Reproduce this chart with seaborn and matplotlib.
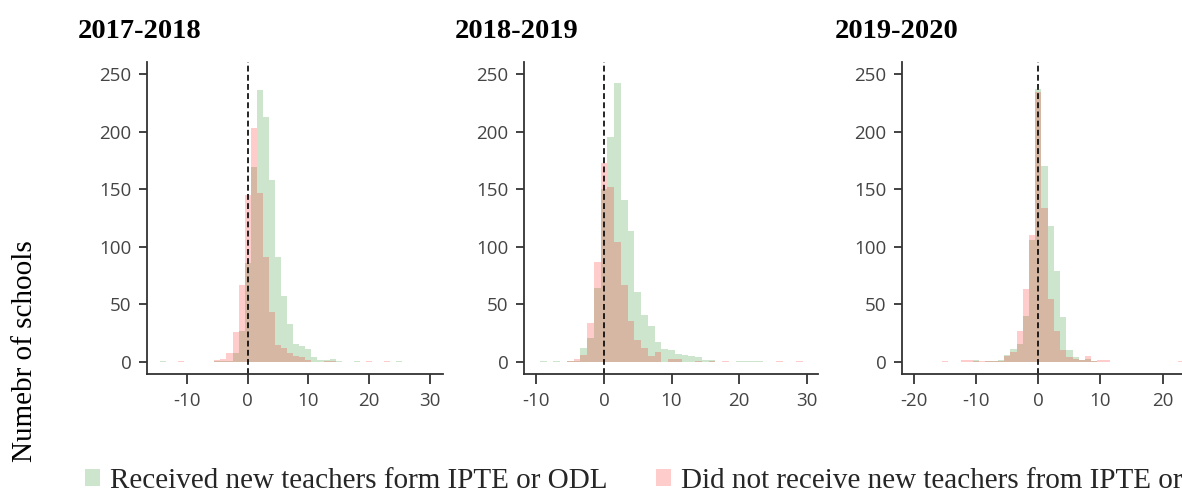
import matplotlib
matplotlib.use("Agg")
import matplotlib.pyplot as plt
from matplotlib.patches import Patch
import seaborn as sns
import pandas as pd

# ---------------- data (change value -> number of schools) ----------------
years = ["2017-2018", "2018-2019", "2019-2020"]

vals_1718_recv = [-14, -5, -4, -3, -2, -1, 0, 1, 2, 3, 4, 5, 6, 7, 8, 9, 10, 11, 12, 13, 14, 15, 18, 25]
cnts_1718_recv = [1, 1, 1, 1, 8, 27, 86, 169, 236, 213, 158, 91, 57, 33, 16, 14, 11, 4, 2, 2, 3, 1, 1, 1]
vals_1718_not = [-11, -5, -4, -3, -2, -1, 0, 1, 2, 3, 4, 5, 6, 7, 8, 9, 10, 13, 14, 20, 23]
cnts_1718_not = [1, 2, 3, 8, 26, 67, 145, 203, 147, 91, 43, 15, 12, 8, 5, 4, 2, 1, 1, 1, 1]

vals_1819_recv = [-9, -7, -5, -4, -3, -2, -1, 0, 1, 2, 3, 4, 5, 6, 7, 8, 9, 10, 11, 12, 13, 14, 15, 16, 20, 21, 22, 23]
cnts_1819_recv = [1, 1, 1, 1, 12, 21, 64, 150, 195, 242, 141, 114, 61, 41, 31, 17, 11, 10, 7, 6, 5, 4, 2, 2, 1, 1, 1, 1]
vals_1819_not = [-5, -4, -3, -2, -1, 0, 1, 2, 3, 4, 5, 6, 7, 8, 10, 11, 14, 16, 18, 26, 29]
cnts_1819_not = [1, 3, 6, 34, 87, 173, 152, 104, 67, 36, 19, 12, 5, 9, 3, 3, 1, 1, 1, 1, 1]

vals_1920_recv = [-10, -8, -7, -6, -5, -4, -3, -2, -1, 0, 1, 2, 3, 4, 5, 6, 7, 8, 9]
cnts_1920_recv = [2, 1, 1, 2, 6, 11, 16, 40, 106, 237, 170, 118, 79, 39, 10, 4, 2, 3, 1]
vals_1920_not = [-15, -12, -11, -10, -9, -8, -7, -6, -5, -4, -3, -2, -1, 0, 1, 2, 3, 4, 5, 6, 7, 8, 9, 10, 11, 23]
cnts_1920_not = [1, 2, 2, 1, 1, 1, 1, 1, 5, 9, 27, 63, 110, 234, 134, 55, 27, 10, 4, 3, 2, 5, 1, 2, 2, 1]

label_recv = "Received new teachers form IPTE or ODL"
label_not = "Did not receive new teachers from IPTE or ODL"
ylabel = "Numebr of schools"

x_ticks = [[-10, 0, 10, 20, 30], [-10, 0, 10, 20, 30], [-20, -10, 0, 10, 20]]
y_ticks = [0, 50, 100, 150, 200, 250]

panels = [
    (vals_1718_recv, cnts_1718_recv, vals_1718_not, cnts_1718_not),
    (vals_1819_recv, cnts_1819_recv, vals_1819_not, cnts_1819_not),
    (vals_1920_recv, cnts_1920_recv, vals_1920_not, cnts_1920_not),
]

# ---------------- layout ----------------
sns.set_theme(style="ticks")
plt.rcParams["axes.unicode_minus"] = False
plt.rcParams["font.family"] = ["Liberation Serif", "DejaVu Serif"]

W, H = 1182, 493
fig = plt.figure(figsize=(W / 100, H / 100), dpi=100)

ax_px = [  # left, right (px), xlim
    (147, 442.7, (-16.6, 32.14)),
    (524, 818, (-11.85, 31.7)),
    (901.7, 1212.4, (-21.97, 28.0)),
]
top_px, bot_px = 62, 374.3
title_x = [78, 455, 835]

green = "green"
red = "red"
tick_font = dict(family=["Open Sans", "DejaVu Sans"], size=13.5)

for i, ((vr, cr, vn, cn), (l, r, xl)) in enumerate(zip(panels, ax_px)):
    ax = fig.add_axes([l / W, 1 - bot_px / H, (r - l) / W, (bot_px - top_px) / H])
    dr = pd.DataFrame({"v": vr, "n": cr})
    dn = pd.DataFrame({"v": vn, "n": cn})
    sns.histplot(data=dr, x="v", weights="n", discrete=True, color=green,
                 alpha=0.2, linewidth=0, ax=ax)
    sns.histplot(data=dn, x="v", weights="n", discrete=True, color=red,
                 alpha=0.2, linewidth=0, ax=ax)
    ax.axvline(0, color="black", linestyle=(0, (3.5, 2)), linewidth=1.2)
    ax.set_xlim(*xl)
    ax.set_ylim(-10.7, 260.4)
    ax.set_xticks(x_ticks[i])
    ax.set_yticks(y_ticks)
    ax.set_xlabel("")
    ax.set_ylabel("")
    for s in ["top", "right"]:
        ax.spines[s].set_visible(False)
    for s in ["left", "bottom"]:
        ax.spines[s].set_color("#333333")
        ax.spines[s].set_linewidth(1.3)
    ax.tick_params(axis="x", direction="out", length=7, width=1.2, color="#222222",
                   pad=6, labelcolor="#444444")
    ax.tick_params(axis="y", direction="out", length=6, width=1.2, color="#222222",
                   pad=5, labelcolor="#444444")
    for lab in ax.get_xticklabels() + ax.get_yticklabels():
        lab.set_fontfamily(tick_font["family"])
        lab.set_fontsize(tick_font["size"])
    fig.text(title_x[i] / W, 1 - 38 / H, years[i], fontsize=20.5,
             fontweight="bold", ha="left", va="baseline", color="black")

fig.text(25 / W, 1 - 351 / H, ylabel, rotation=90, fontsize=21,
         ha="center", va="center", color="black")

handles = [Patch(facecolor=green, alpha=0.2, edgecolor="none", label=label_recv),
           Patch(facecolor=red, alpha=0.2, edgecolor="none", label=label_not)]
fig.legend(handles=handles, loc="center left", bbox_to_anchor=(85 / W, 1 - 481 / H),
           ncol=2, frameon=False, fontsize=21, handlelength=0.52, handleheight=0.52,
           handletextpad=0.34, columnspacing=1.65, borderpad=0, borderaxespad=0)

fig.savefig("out.png", dpi=100)
